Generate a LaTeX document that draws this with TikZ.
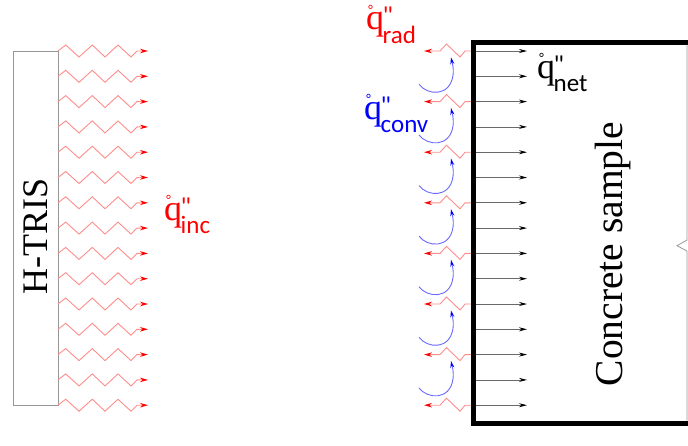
\documentclass[tikz,border=0pt]{standalone}
\usepackage{fontspec}
\setmainfont{Liberation Serif}
\newfontfamily\subfam{Carlito}
\usetikzlibrary{arrows.meta}
\definecolor{zig}{RGB}{255,140,140}
\definecolor{cblue}{RGB}{105,105,255}
\definecolor{agray}{RGB}{105,105,105}
\definecolor{bgray}{RGB}{150,150,150}
\definecolor{lred}{RGB}{255,0,0}
\definecolor{lblue}{RGB}{0,0,255}
\newcommand{\qflux}[1]{\rlap{\kern1pt\raisebox{9.5pt}{\fontsize{21}{21}\selectfont ˚}}q\rlap{\kern-1.5pt\raisebox{5pt}{\subfam\fontsize{26}{26}\selectfont "}}\kern-1.5pt\raisebox{-13.5pt}{\subfam\fontsize{25}{25}\selectfont #1}}
\tikzset{
  zigline/.style={draw=zig, line width=0.9pt, -{Stealth[red,length=8pt,width=4.5pt]}},
  netarrow/.style={draw=agray, line width=0.8pt, -{Stealth[black,length=8pt,width=4pt]}},
  convarrow/.style={draw=cblue, line width=0.9pt, -{Stealth[lblue,length=7pt,width=4pt]}},
  fluxlabel/.style={anchor=base west, inner sep=0pt, font=\fontsize{36}{36}\selectfont},
}
\begin{document}
\begin{tikzpicture}[x=1pt,y=-1pt]
\useasboundingbox (0,0) rectangle (688,445);
% H-TRIS panel
\node[draw=bgray, line width=1pt, minimum width=45pt, minimum height=354pt, anchor=north west, inner sep=0pt] (htris) at (13,51) {};
\node[rotate=90, anchor=base, inner sep=0pt, font=\fontsize{36}{36}\selectfont] (htrislabel) at (47,236.5) {H-TRIS};
% incident radiation
\foreach \i in {0,...,14}{
  \pgfmathsetmacro\yy{51+25.3*\i}
  \draw[zigline] (58,\yy) -- ++(7.7,-6) -- ++(13.3,12) -- ++(13.3,-12) -- ++(12.7,12) -- ++(13,-12) -- ++(13,12) -- ++(6,-6) -- (148,\yy);
}
\node[fluxlabel, text=lred] (qinc) at (164,220) {\qflux{inc}};
% net flux arrows
\foreach \i in {0,...,14}{
  \pgfmathsetmacro\yy{51+25.3*\i}
  \draw[netarrow] (475,\yy) -- (527,\yy);
}
% re-radiation
\foreach \i in {0,2,...,14}{
  \pgfmathsetmacro\yy{51+25.3*\i}
  \draw[zigline] (471,\yy) -- (465,\yy) -- ++(-5,6) -- ++(-13.5,-13) -- ++(-6.5,7) -- (424,\yy);
}
% convection
\foreach \k in {0,...,6}{
  \pgfmathsetmacro\tt{57.3+50.6*\k}
  \draw[convarrow] (419,\tt+27) .. controls (427,\tt+38) and (450,\tt+40) .. (453,\tt+18) .. controls (454,\tt+10) and (452,\tt+5) .. (451,\tt);
}
% sample
\draw[line width=5pt, line join=miter] (688,42) -- (473,42) -- (473,423) -- (688,423);
\draw[bgray, line width=0.8pt] (687,44.5) -- (687,240) -- (677,245.7) -- (687,251) -- (687,420.5);
\node[rotate=90, anchor=base, inner sep=0pt, font=\fontsize{39.5}{39.5}\selectfont] (sample) at (622,254) {Concrete sample};
% labels
\node[fluxlabel, text=lred] (qrad) at (366,29.5) {\qflux{rad}};
\node[fluxlabel, text=lblue] (qconv) at (364,119) {\qflux{conv}};
\node[fluxlabel, text=black] (qnet) at (537,78) {\qflux{net}};
\end{tikzpicture}
\end{document}
